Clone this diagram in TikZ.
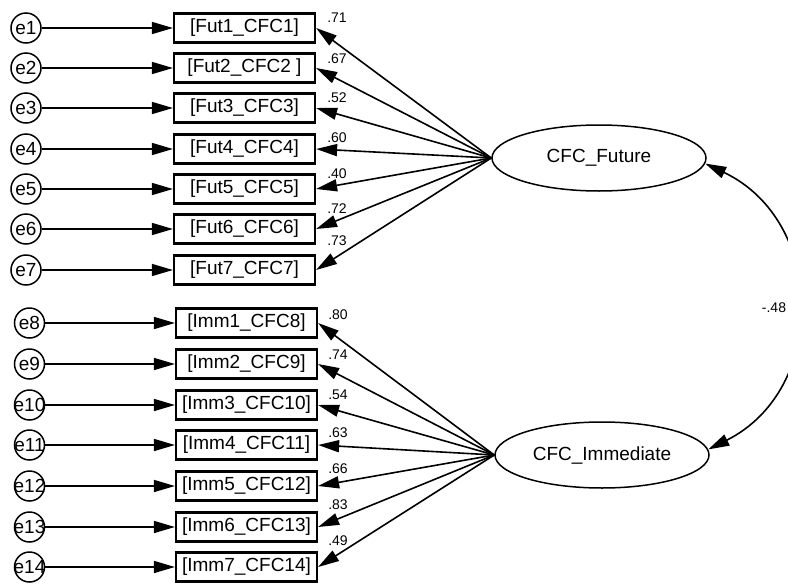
\documentclass[tikz,border=0pt]{standalone}
\usepackage{fontspec}
\setmainfont{Liberation Sans}
\usetikzlibrary{arrows.meta,shapes.geometric}

\begin{document}
\begin{tikzpicture}[x=1pt,y=-1pt,
    err/.style={draw,circle,line width=1.5pt,minimum size=30pt,inner sep=0pt,font=\fontsize{19}{19}\selectfont},
    item/.style={draw,line width=2.2pt,minimum width=141pt,minimum height=29pt,inner sep=0pt,font=\fontsize{19}{19}\selectfont},
    latent/.style={draw,ellipse,line width=1.5pt,minimum width=214pt,minimum height=66pt,inner sep=0pt,font=\fontsize{19}{19}\selectfont},
    arr/.style={line width=1.6pt,-{Triangle[length=21pt,width=12pt]}},
    load/.style={font=\fontsize{14}{14}\selectfont,inner sep=0pt}]
  \clip (0,0) rectangle (788,584);

  % latent factors
  \node[latent] (fut) at (599,158) {CFC\_Future};
  \node[latent] (imm) at (602,455) {CFC\_Immediate};

  % future items
  \foreach \i/\y/\txt/\lv/\ly in {1/28/{[Fut1\_CFC1]}/.71/18, 2/68/{[Fut2\_CFC2 ]}/.67/59,
      3/108/{[Fut3\_CFC3]}/.52/98, 4/149/{[Fut4\_CFC4]}/.60/138, 5/189/{[Fut5\_CFC5]}/.40/174,
      6/229/{[Fut6\_CFC6]}/.72/209, 7/270/{[Fut7\_CFC7]}/.73/241}{
    \node[err] (e\i) at (26,\y) {\makebox[0pt]{e\i}};
    \node[item] (f\i) at (244.5,\y) {\txt};
    \draw[arr] (e\i) -- (f\i);
    \draw[arr] (fut.west) -- (f\i.east);
    \node[load] (lf\i) at (337,\ly) {\lv};
  }

  % immediate items
  \foreach \i/\y/\txt/\lv/\ly in {8/323/{[Imm1\_CFC8]}/.80/315, 9/364/{[Imm2\_CFC9]}/.74/355,
      10/405/{[Imm3\_CFC10]}/.54/395, 11/445/{[Imm4\_CFC11]}/.63/433, 12/486/{[Imm5\_CFC12]}/.66/469,
      13/527/{[Imm6\_CFC13]}/.83/505, 14/567/{[Imm7\_CFC14]}/.49/541}{
    \node[err] (e\i) at (29.5,\y) {\makebox[0pt]{e\i}};
    \node[item] (m\i) at (246.5,\y) {\txt};
    \draw[arr] (e\i) -- (m\i);
    \draw[arr] (imm.west) -- (m\i.east);
    \node[load] (lm\i) at (338,\ly) {\lv};
  }

  % covariance
  \draw[arr,{Triangle[length=21pt,width=12pt]}-{Triangle[length=21pt,width=12pt]}] (fut.-3) to[bend left=64,looseness=1.2] (imm.3);
  \node[load] (cov) at (774,308) {-.48};
\end{tikzpicture}
\end{document}
